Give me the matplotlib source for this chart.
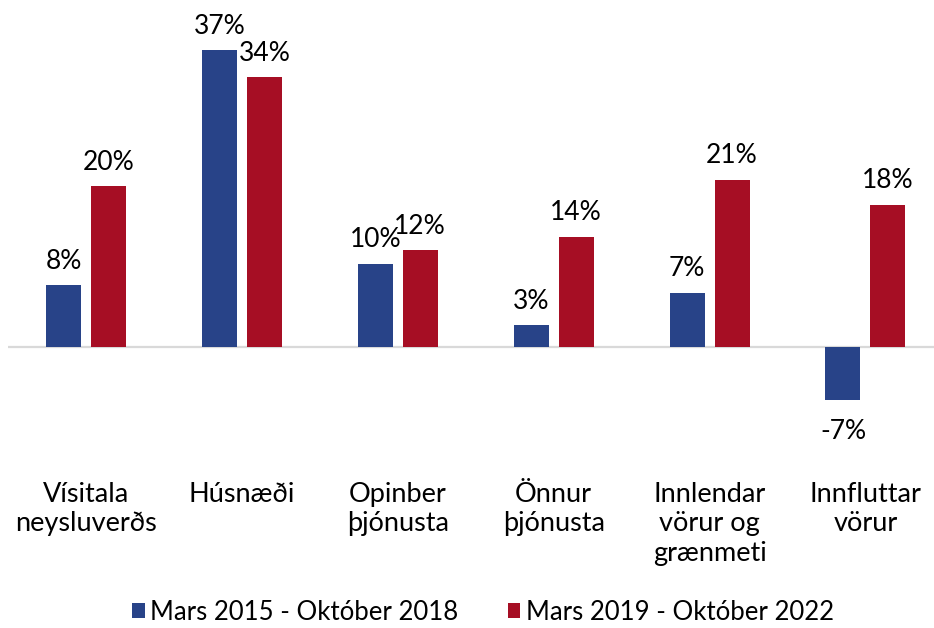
import numpy as np
import matplotlib as mpl
mpl.use('Agg')
import matplotlib.pyplot as plt
from matplotlib.patches import Patch

categories = ["Vísitala\nneysluverðs", "Húsnæði", "Opinber\nþjónusta",
              "Önnur\nþjónusta", "Innlendar\nvörur og\ngrænmeti", "Innfluttar\nvörur"]
series_names = ["Mars 2015 - Október 2018", "Mars 2019 - Október 2022"]
# (% change)
period1 = [7.7, 37.1, 10.4, 2.7, 6.8, -6.6]
period2 = [20.1, 33.7, 12.1, 13.8, 20.9, 17.8]

blue = "#284388"
red = "#A60E24"

plt.rcParams['font.family'] = ['Lato', 'DejaVu Sans']

W, H = 934, 628
fig = plt.figure(figsize=(W / 100, H / 100), dpi=100)
# axes placed in pixels: left 8, right 934, top 19, bottom 443
ax = fig.add_axes([8 / W, 1 - 443 / H, 926 / W, 424 / H])

x = np.arange(len(categories))
bw = 0.2245
off = 0.1443
b1 = ax.bar(x - off, period1, bw, color=blue, zorder=2)
b2 = ax.bar(x + off, period2, bw, color=red, zorder=2)

ax.axhline(0, color="#D9D9D9", linewidth=1.6, zorder=1)

ax.set_xlim(-0.5, -0.5 + 926 / 155.9)
ax.set_ylim(-12, 41)

#value labels above/below the bars
for vals, xs in ((period1, x - off), (period2, x + off)):
    for xv, v in zip(xs, vals):
        lab = "%d%%" % round(v)
        if v >= 0:
            ax.annotate(lab, xy=(xv, v), xytext=(0, 12), textcoords='offset points',
                        ha='center', va='baseline', fontsize=19, color='black')
        else:
            ax.annotate(lab, xy=(xv, v), xytext=(0, -14), textcoords='offset points',
                        ha='center', va='top', fontsize=19, color='black')

ax.set_xticks(x)
ax.set_xticklabels(categories, fontsize=19.5, linespacing=1.22, va='top')
ax.tick_params(axis='x', length=0, pad=28)
ax.set_yticks([])
for s in ax.spines.values():
    s.set_visible(False)

handles = [Patch(facecolor=blue), Patch(facecolor=red)]
fig.legend(handles, series_names, loc='center', bbox_to_anchor=(483 / W, 1 - 612 / H),
           ncol=2, frameon=False, fontsize=18.5, handlelength=0.5, handleheight=0.5,
           handletextpad=0.2, columnspacing=1.9, borderaxespad=0)

plt.savefig('out.png', dpi=100)
